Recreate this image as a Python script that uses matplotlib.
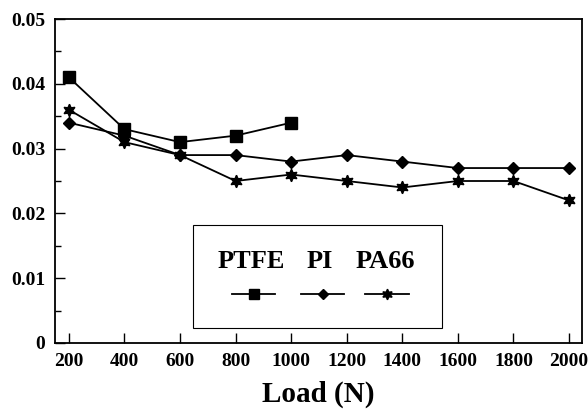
import matplotlib.pyplot as plt
from matplotlib.lines import Line2D
from matplotlib.patches import Rectangle
from matplotlib.ticker import MultipleLocator

plt.rcParams['font.family'] = ['Liberation Serif', 'DejaVu Serif']
plt.rcParams['font.weight'] = 'bold'

# data
load_ptfe = [200, 400, 600, 800, 1000]
mu_ptfe = [0.041, 0.033, 0.031, 0.032, 0.034]

load_all = [200, 400, 600, 800, 1000, 1200, 1400, 1600, 1800, 2000]
mu_pi = [0.034, 0.032, 0.029, 0.029, 0.028, 0.029, 0.028, 0.027, 0.027, 0.027]
mu_pa66 = [0.036, 0.031, 0.029, 0.025, 0.026, 0.025, 0.024, 0.025, 0.025, 0.022]

x_ticks = [200, 400, 600, 800, 1000, 1200, 1400, 1600, 1800, 2000]
y_ticks = [0, 0.01, 0.02, 0.03, 0.04, 0.05]
y_labels = ['0', '0.01', '0.02', '0.03', '0.04', '0.05']
names = ['PTFE', 'PI', 'PA66']

fig = plt.figure(figsize=(5.88, 4.16), dpi=100)
ax = fig.add_axes([0.0935, 0.1755, 0.8965, 0.7788])

star6 = (6, 1, 0)
styles = [dict(marker='s', ms=8.5), dict(marker='D', ms=6.5), dict(marker=star6, ms=9)]

ax.plot(load_ptfe, mu_ptfe, color='black', lw=1.3, **styles[0])
ax.plot(load_all, mu_pi, color='black', lw=1.3, **styles[1])
ax.plot(load_all, mu_pa66, color='black', lw=1.3, **styles[2])

ax.set_xlim(150, 2047)
ax.set_ylim(0, 0.05)
ax.set_xticks(x_ticks)
ax.set_yticks(y_ticks)
ax.set_yticklabels(y_labels)
ax.yaxis.set_minor_locator(MultipleLocator(0.005))
ax.tick_params(direction='in', length=7, width=1, labelsize=14, pad=7)
ax.tick_params(which='minor', direction='in', length=4, width=1)
for lab in ax.get_xticklabels() + ax.get_yticklabels():
    lab.set_fontweight('bold')
for sp in ax.spines.values():
    sp.set_linewidth(1.3)

ax.set_xlabel('Load (N)', fontsize=21, fontweight='bold', labelpad=8)

# legend box drawn like the original: names above the line samples
ax.add_patch(Rectangle((0.261, 0.046), 0.474, 0.318, transform=ax.transAxes,
                       fill=False, lw=0.8, color='black'))
text_x = [0.373, 0.502, 0.627]
hand_x = [0.377, 0.508, 0.630]
for name, tx, hx, st in zip(names, text_x, hand_x, styles):
    ax.text(tx, 0.25, name, transform=ax.transAxes, ha='center', va='center',
            fontsize=19, fontweight='bold')
    ax.add_line(Line2D([hx - 0.041, hx + 0.041], [0.151, 0.151], transform=ax.transAxes,
                       color='black', lw=1.3))
    ax.add_line(Line2D([hx], [0.151], transform=ax.transAxes, color='black',
                       lw=0, marker=st['marker'], ms=st['ms'] * 0.85))

fig.savefig('out.png', dpi=100)
